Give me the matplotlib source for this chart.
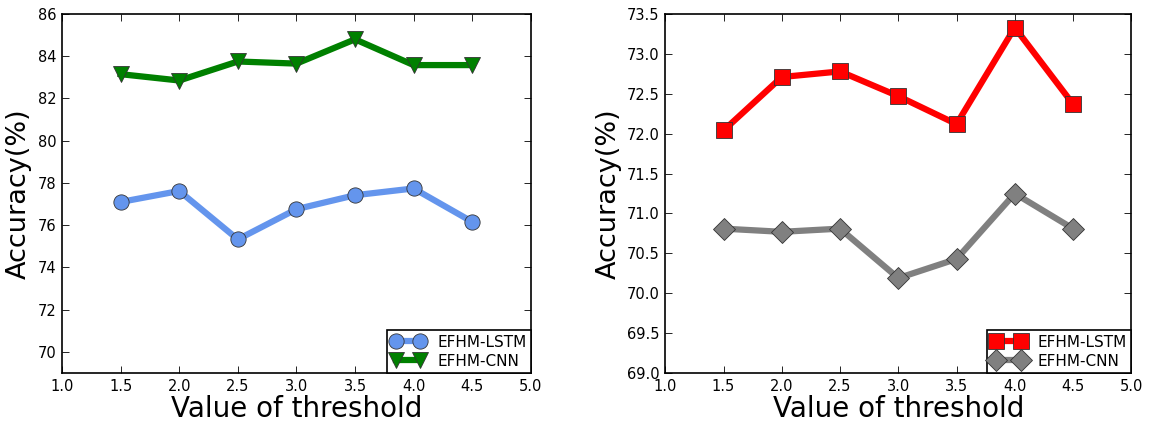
import matplotlib
matplotlib.use("Agg")
import matplotlib.pyplot as plt

# thresholds on the x axis
thresholds = [1.5, 2.0, 2.5, 3.0, 3.5, 4.0, 4.5]

# left panel
left_lstm = [77.1, 77.62, 75.33, 76.76, 77.42, 77.74, 76.16]
left_cnn = [83.15, 82.85, 83.75, 83.65, 84.8, 83.58, 83.58]

# right panel
right_lstm = [72.04, 72.71, 72.78, 72.47, 72.12, 73.33, 72.37]
right_cnn = [70.81, 70.77, 70.81, 70.19, 70.43, 71.25, 70.81]

xticks = [1.0, 1.5, 2.0, 2.5, 3.0, 3.5, 4.0, 4.5, 5.0]
left_yticks = [70, 72, 74, 76, 78, 80, 82, 84, 86]
right_yticks = [69.0, 69.5, 70.0, 70.5, 71.0, 71.5, 72.0, 72.5, 73.0, 73.5]


def style_axes(ax, yticks, ylim, yfmt):
	ax.set_xlim(1.0, 5.0)
	ax.set_ylim(*ylim)
	ax.set_xticks(xticks)
	ax.set_xticklabels(["%.1f" % t for t in xticks], fontsize=10.5)
	ax.set_yticks(yticks)
	ax.set_yticklabels([yfmt % t for t in yticks], fontsize=10.5)
	ax.tick_params(direction="in", top=True, right=True, length=5, width=0.6, pad=4)
	for s in ax.spines.values():
		s.set_linewidth(1.2)
	ax.set_xlabel("Value of threshold", fontsize=20, labelpad=1)
	ax.set_ylabel("Accuracy(%)", fontsize=19.5, labelpad=4)
	leg = ax.legend(loc="lower right", fontsize=11, numpoints=2, fancybox=False,
					borderaxespad=0, handlelength=2.2, edgecolor="black",
					framealpha=1, borderpad=0.3, labelspacing=0.25)
	leg.get_frame().set_linewidth(1.2)


fig = plt.figure(figsize=(11.49, 4.23), dpi=100)
ax1 = fig.add_axes([0.054, 0.118, 0.408, 0.849])
ax2 = fig.add_axes([0.579, 0.118, 0.4056, 0.849])

ax1.plot(thresholds, left_lstm, color="#6495ED", lw=4.5, marker="o", ms=11,
		 mec="#333333", mew=0.6, label="EFHM-LSTM")
ax1.plot(thresholds, left_cnn, color="#008000", lw=4.5, marker="v", ms=12,
		 mec="#333333", mew=0.6, label="EFHM-CNN")
style_axes(ax1, left_yticks, (69, 86), "%d")

ax2.plot(thresholds, right_lstm, color="#FF0000", lw=4.5, marker="s", ms=11,
		 mec="#333333", mew=0.6, label="EFHM-LSTM")
ax2.plot(thresholds, right_cnn, color="#808080", lw=4.5, marker="D", ms=11,
		 mec="#333333", mew=0.6, label="EFHM-CNN")
style_axes(ax2, right_yticks, (69.0, 73.5), "%.1f")

fig.savefig("out.png", dpi=100)
